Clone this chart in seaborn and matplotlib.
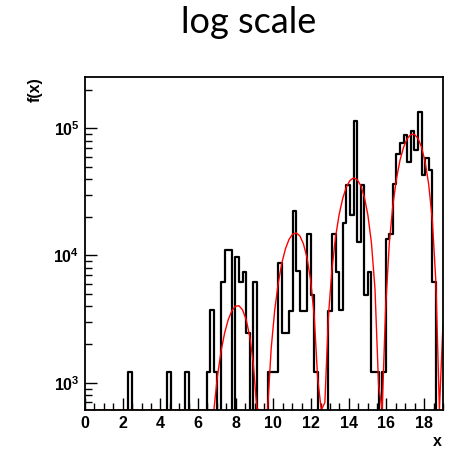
import numpy as np
import pandas as pd
import matplotlib
matplotlib.use("Agg")
import matplotlib.pyplot as plt
import seaborn as sns
from matplotlib.ticker import MultipleLocator, LogLocator, NullFormatter

# ---- data ----
x_lo, x_hi, n_bins = 0.0, 19.0, 100
counts = [
    0, 0, 0, 0, 0, 0, 0, 0, 0, 0,                # 0-9
    0, 0, 1220, 0, 0, 0, 0, 0, 0, 0,             # 10-19
    0, 0, 0, 1220, 0, 0, 0, 0, 1220, 0,          # 20-29
    0, 0, 0, 0, 1220, 3700, 1220, 0, 6200, 11000,  # 30-39
    11000, 0, 9800, 6200, 7400, 2450, 0, 6200, 0, 0,  # 40-49
    0, 1220, 1220, 1220, 8800, 2450, 2450, 3650, 22500, 7500,  # 50-59
    3650, 3650, 14800, 4900, 1220, 0, 0, 0, 3650, 14800,  # 60-69
    7450, 3700, 17900, 36000, 20700, 115000, 12700, 36000, 4900, 7400,  # 70-79
    1220, 1220, 0, 1220, 13500, 14800, 36500, 63000, 77000, 88000,  # 80-89
    54000, 96000, 67000, 134000, 42700, 58800, 46800, 6200, 0, 0,  # 90-99
]
fit_start = 33  # first grid point of the fitted curve listed below
fit_values = [
    0.3, 54, 252, 611, 1128, 1764, 2458, 3125, 3667, 3991,
    4026, 3738, 3146, 2328, 1431, 623, 99, 46, 606, 1847,
    3736, 6124, 8758, 11303, 13391, 14739, 15060, 14277, 12385, 9648,
    6477, 3418, 1073, 17, 697, 3341, 7902, 14037, 21079, 28193,
    34438, 38851, 40709, 39618, 35574, 29054, 20923, 12640, 5479, 958,
    238, 4036, 12449, 24871, 40070, 56255, 71162, 82811, 89356, 89627,
    83322, 71142, 54495, 36306, 19209, 6275, 196, 2932,
]
title = "log scale"
x_label = "x"
y_label = "f(x)"
y_lo, y_hi = 610, 2.53e5

edges = np.linspace(x_lo, x_hi, n_bins + 1)
hist_df = pd.DataFrame({"x": 0.5 * (edges[:-1] + edges[1:]),
                        "w": np.asarray(counts, dtype=float)})
fit_df = pd.DataFrame({
    "x": np.concatenate([[x_lo], edges[fit_start:]]),
    "y": np.concatenate([[0.0], np.asarray(fit_values, dtype=float)]),
})
fit_df["y_shown"] = fit_df["y"].clip(lower=y_lo)

sns.set_theme(style="white")
plt.rcParams["font.family"] = ["Liberation Sans", "DejaVu Sans"]
plt.rcParams["mathtext.fontset"] = "custom"
plt.rcParams["mathtext.rm"] = "Liberation Sans:bold"
plt.rcParams["mathtext.bf"] = "Liberation Sans:bold"
plt.rcParams["text.color"] = "black"
plt.rcParams["axes.labelcolor"] = "black"

W, H = 450, 449
fig = plt.figure(figsize=(W / 100, H / 100), dpi=100)
ax = fig.add_axes([85 / W, 1 - 410 / H, (443 - 85) / W, (410 - 77) / H])

sns.histplot(data=hist_df, x="x", weights="w", bins=list(edges), element="step",
             fill=False, color="black", linewidth=1.6, ax=ax)
sns.lineplot(data=fit_df, x="x", y="y_shown", color="red", linewidth=1.0,
             estimator=None, sort=False, ax=ax)

ax.set_yscale("log")
ax.set_xlim(x_lo, x_hi)
ax.set_ylim(y_lo, y_hi)

ax.xaxis.set_major_locator(MultipleLocator(2))
ax.xaxis.set_minor_locator(MultipleLocator(0.5))
ax.yaxis.set_major_locator(LogLocator(base=10))
ax.yaxis.set_minor_locator(LogLocator(base=10, subs=np.arange(2, 10)))
ax.yaxis.set_minor_formatter(NullFormatter())
ax.tick_params(which="both", direction="in", bottom=True, left=True,
               top=False, right=False, colors="black", labelsize=11.5,
               width=1.0)
ax.tick_params(which="major", length=8.5, pad=4)
ax.tick_params(which="minor", length=5)
for lab in ax.get_xticklabels() + ax.get_yticklabels():
    lab.set_fontweight("bold")

for s in ax.spines.values():
    s.set_visible(True)
    s.set_color("black")
    s.set_linewidth(1.3)

ax.set_xlabel(x_label, fontsize=11.5, fontweight="bold")
ax.xaxis.set_label_coords((437 - 85) / 358, -(442 - 410) / 333)
ax.xaxis.label.set_horizontalalignment("center")
ax.xaxis.label.set_verticalalignment("center")
ax.set_ylabel(y_label, fontsize=11.5, fontweight="bold")
ax.yaxis.set_label_coords(-(85 - 35) / 358, 1.0)
ax.yaxis.label.set_verticalalignment("center")
ax.yaxis.label.set_horizontalalignment("right")

fig.text(249 / W, 1 - 33 / H, title, ha="center", va="baseline",
         fontsize=26, family=["Lato", "DejaVu Sans"], color="black")

fig.savefig("out.png", dpi=100, facecolor="white")
